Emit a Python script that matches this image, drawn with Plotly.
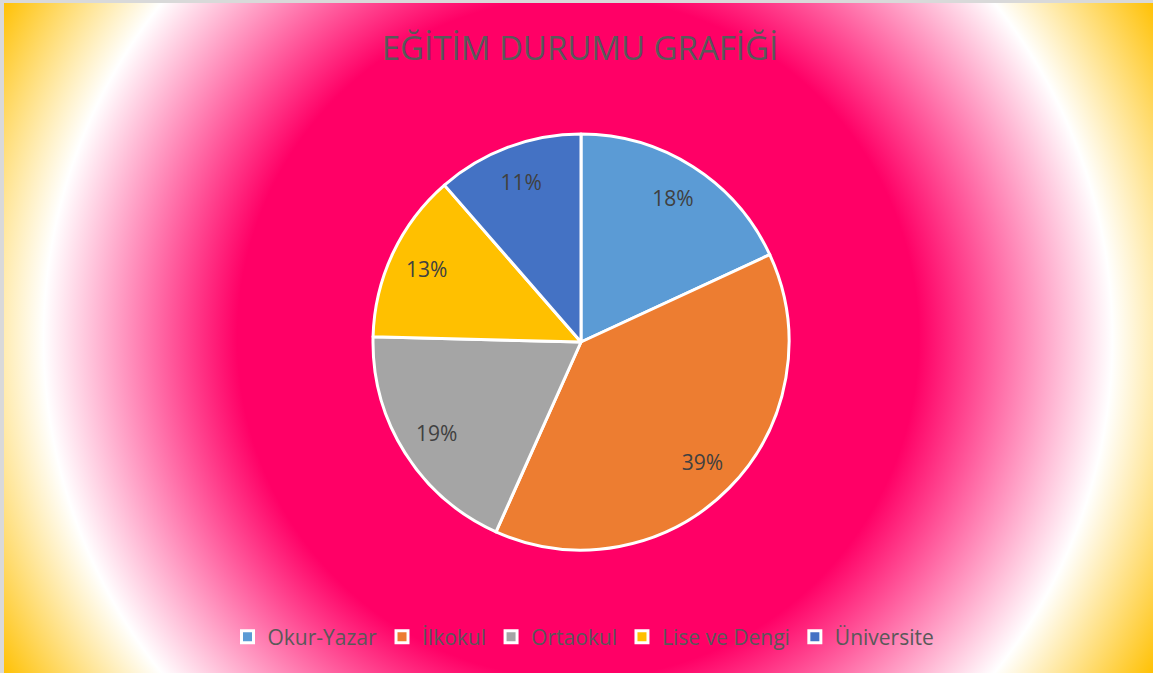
import base64
import plotly.graph_objects as go

# ---- data ----
categories = ["Okur-Yazar", "İlkokul", "Ortaokul", "Lise ve Dengi", "Üniversite"]
values = [18.1, 38.6, 18.7, 13.2, 11.4]
colors = ["#5B9BD5", "#ED7D31", "#A5A5A5", "#FFC000", "#4472C4"]
title_text = "EĞİTİM DURUMU GRAFİĞİ"

W, H = 1153, 673

# ---- background (radial gradient as an SVG image) ----
svg = f"""<svg xmlns='http://www.w3.org/2000/svg' width='{W}' height='{H}' viewBox='0 0 {W} {H}' preserveAspectRatio='none'>
<defs>
<radialGradient id='g' gradientUnits='userSpaceOnUse' cx='578' cy='338' r='668'>
<stop offset='0' stop-color='#FF0066'/>
<stop offset='0.51' stop-color='#FF0066'/>
<stop offset='0.80' stop-color='#FFFFFF'/>
<stop offset='1' stop-color='#FFC000'/>
</radialGradient>
</defs>
<rect x='0' y='0' width='{W}' height='{H}' fill='#D9D9D9'/>
<rect x='4' y='3' width='{W}' height='{H}' fill='url(#g)'/>
</svg>"""
bg_src = "data:image/svg+xml;base64," + base64.b64encode(svg.encode("utf-8")).decode("ascii")

cx, cy, r = 581, 342, 208
dom = dict(
    x=[(cx - r) / W, (cx + r) / W],
    y=[(H - cy - r) / H, (H - cy + r) / H],
)

# main pie (slices + legend)
pie = go.Pie(
    labels=categories,
    values=values,
    sort=False,
    direction="clockwise",
    rotation=0,
    marker=dict(colors=colors, line=dict(color="#FFFFFF", width=3)),
    textinfo="none",
    hoverinfo="label+percent",
    domain=dom,
)

# transparent ring overlay: carries the percentage labels toward the outer part
labels_ring = go.Pie(
    labels=categories,
    values=values,
    sort=False,
    direction="clockwise",
    rotation=0,
    hole=0.64,
    marker=dict(colors=["rgba(0,0,0,0)"] * len(values), line=dict(width=0)),
    texttemplate="%{percent:.0%}",
    textposition="inside",
    insidetextorientation="horizontal",
    textfont=dict(family="Open Sans", size=21, color="#404040"),
    hoverinfo="skip",
    showlegend=False,
    domain=dom,
)

fig = go.Figure([pie, labels_ring])

fig.update_layout(
    width=W,
    height=H,
    margin=dict(l=0, r=0, t=0, b=0),
    paper_bgcolor="rgba(0,0,0,0)",
    plot_bgcolor="rgba(0,0,0,0)",
    title=dict(
        text=title_text,
        x=580 / W,
        xanchor="center",
        y=1 - 48 / H,
        yanchor="middle",
        font=dict(family="Open Sans", size=33, color="#595959"),
    ),
    legend=dict(
        orientation="h",
        x=0.5 + 7 / W,
        xanchor="center",
        y=1 - 637 / H,
        yanchor="middle",
        font=dict(family="Open Sans", size=21, color="#595959"),
        bgcolor="rgba(0,0,0,0)",
    ),
    images=[
        dict(
            source=bg_src,
            xref="paper",
            yref="paper",
            x=0,
            y=1,
            sizex=1,
            sizey=1,
            xanchor="left",
            yanchor="top",
            sizing="stretch",
            layer="below",
        )
    ],
)

fig.write_html(
    "out.html",
    config={"displayModeBar": False},
    post_script="document.body.style.margin='0';document.body.style.overflow='hidden';",
)
